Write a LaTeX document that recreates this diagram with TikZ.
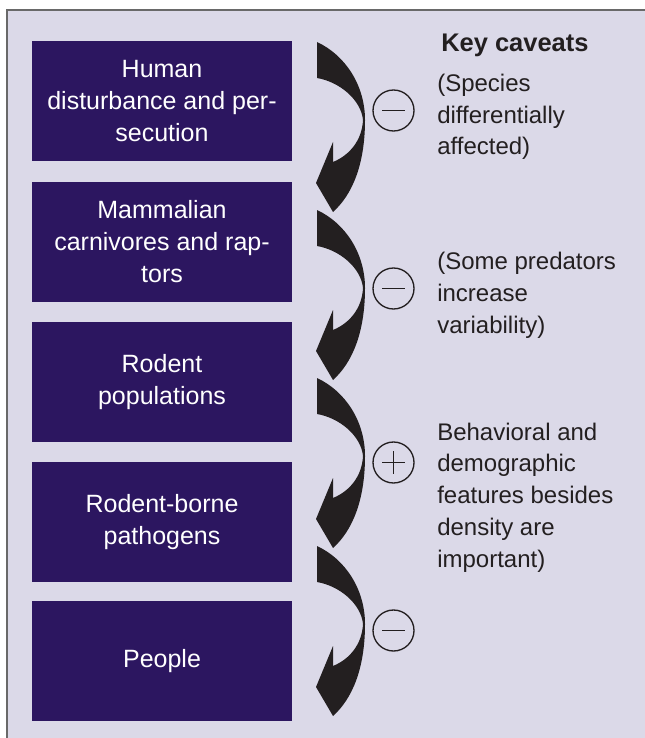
\documentclass[tikz,border=0pt]{standalone}
\usepackage{fontspec}
\setmainfont{Liberation Sans}
\definecolor{bgc}{RGB}{219,217,232}
\definecolor{boxc}{RGB}{44,22,96}
\definecolor{ink}{RGB}{35,31,32}
\definecolor{framec}{RGB}{105,105,105}
\begin{document}
\begin{tikzpicture}[x=0.75pt,y=-0.75pt,
  stagebox/.style={rectangle, fill=boxc, text=white, minimum width=195pt, minimum height=90pt,
    inner sep=0pt, align=center, font=\fontsize{18.75}{24}\selectfont},
  signcircle/.style={circle, draw=ink, line width=1pt, minimum size=30.75pt, inner sep=0pt},
  signline/.style={draw=ink, line width=1pt},
  caveat/.style={anchor=base west, inner sep=0pt, align=left, text=ink, font=\fontsize{18}{23.8}\selectfont},
  heading/.style={anchor=base west, inner sep=0pt, text=ink, font=\bfseries\fontsize{19.1}{23}\selectfont},
  crescent/.pic={\fill[ink] (317,-78) .. controls (345,-65) and (365,-35) .. (365,0)
      .. controls (365,45) and (352,75) .. (333,92) -- (316,63) -- (333,22) -- (333,42)
      .. controls (350,35) and (362,20) .. (363,0)
      .. controls (361,-20) and (340,-38) .. (317,-42) -- cycle;}
]
\useasboundingbox (0,0) rectangle (645,738);
\fill[white] (0,0) rectangle (645,738);
\begin{scope}
\clip (0,0) rectangle (645,738);
\draw[framec, line width=1.5pt, fill=bgc] (6.5,10) rectangle (800,900);
\end{scope}

\node[stagebox] (b1) at (162,101) {Human\\disturbance and per-\\secution};
\node[stagebox] (b2) at (162,242) {Mammalian\\carnivores and rap-\\tors};
\node[stagebox] (b3) at (162,382) {Rodent\\populations};
\node[stagebox] (b4) at (162,522) {Rodent-borne\\pathogens};
\node[stagebox] (b5) at (162,661) {People};

\pic at (0,120) {crescent};
\pic at (0,288) {crescent};
\pic at (0,456) {crescent};
\pic at (0,624) {crescent};

\node[signcircle] (s1) at (393.5,110.5) {};
\node[signcircle] (s2) at (393.5,288.5) {};
\node[signcircle] (s3) at (393.5,462.5) {};
\node[signcircle] (s4) at (393.5,630.5) {};
\path[signline] (s1.center) ++(-11.5,0) -- ++(23,0);
\path[signline] (s2.center) ++(-11.5,0) -- ++(23,0);
\path[signline] (s3.center) ++(-11.5,0) -- ++(23,0);
\path[signline] (s3.center) ++(0,-11.5) -- ++(0,23);
\path[signline] (s4.center) ++(-11.5,0) -- ++(23,0);

\node[heading] (h) at (441,52) {Key caveats};
\node[caveat] (k1) at (437,155) {(Species\\differentially\\affected)};
\node[caveat] (k2) at (437,333) {(Some predators\\increase\\variability)};
\node[caveat] (k3) at (437,567) {Behavioral and\\demographic\\features besides\\density are\\important)};
\end{tikzpicture}
\end{document}
